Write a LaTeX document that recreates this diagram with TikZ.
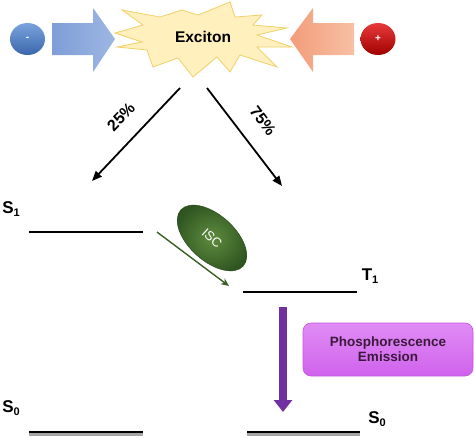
\documentclass[tikz,border=0pt]{standalone}
\usepackage{fontspec}
\setmainfont{Liberation Sans}
\usetikzlibrary{arrows.meta,shapes.geometric}
\definecolor{chblueT}{HTML}{7AA3DD}
\definecolor{chblueB}{HTML}{3A67AC}
\definecolor{chredT}{HTML}{E83A3A}
\definecolor{chredB}{HTML}{A00000}
\definecolor{arrblueL}{HTML}{7F9ED8}
\definecolor{arrblueR}{HTML}{9DB6E3}
\definecolor{arrorL}{HTML}{F39C7A}
\definecolor{arrorR}{HTML}{F7C0A4}
\definecolor{burstfill}{HTML}{FFF0BE}
\definecolor{burstline}{HTML}{F0D068}
\definecolor{iscin}{HTML}{5E8B3E}
\definecolor{iscout}{HTML}{2E5420}
\definecolor{iscarrow}{HTML}{3C5F28}
\definecolor{emipurple}{HTML}{7030A0}
\definecolor{boxtop}{HTML}{E08CF5}
\definecolor{boxbot}{HTML}{D062EC}
\definecolor{boxline}{HTML}{C455E0}
\definecolor{boxtext}{HTML}{3A1A3A}
\newcommand{\lvlab}[2]{\fontsize{17}{17}\selectfont #1\raisebox{-0.35ex}{\fontsize{11}{11}\selectfont #2}}
\begin{document}
\begin{tikzpicture}[x=1pt,y=-1pt,font=\bfseries,
  charge/.style={ellipse,minimum width=35pt,minimum height=32pt,inner sep=0pt,text=white,font=\bfseries\fontsize{10}{10}\selectfont},
  lvl/.style={line width=2.5pt},
  lvlshadow/.style={line width=2.5pt,gray!70},
  pct/.style={-{Triangle[length=10pt,width=8pt]},line width=1.8pt},
  pctlab/.style={font=\bfseries\fontsize{16}{16}\selectfont},
  levlab/.style={inner sep=0pt}]
\useasboundingbox (0,0) rectangle (474,437);

% charges
\node[charge,top color=chblueT,bottom color=chblueB] (minus) at (27.5,39) {-};
\node[charge,top color=chredT,bottom color=chredB] (plus) at (378,39) {+};

% big arrows
\path[left color=arrblueL,right color=arrblueR]
  (52,23) -- (93,23) -- (93,8) -- (115,39) -- (93,72) -- (93,55) -- (52,55) -- cycle;
\path[left color=arrorL,right color=arrorR]
  (354,23) -- (313,23) -- (313,8) -- (290,39) -- (313,72) -- (313,55) -- (354,55) -- cycle;

% starburst
\draw[fill=burstfill,draw=burstline,line width=0.8pt,line join=miter]
  (115,33) -- (143,25) -- (122,10) -- (160,17) -- (182,10) -- (198,15) -- (230,2)
  -- (235,17) -- (262,15) -- (253,25) -- (287,28) -- (257,35) -- (292,47)
  -- (257,47) -- (277,67) -- (240,55) -- (230,72) -- (217,57) -- (193,77)
  -- (178,58) -- (153,67) -- (147,50) -- (117,47) -- (142,42) -- cycle;
\node[font=\bfseries\fontsize{15.5}{15.5}\selectfont] (exciton) at (203,37) {Exciton};

% branching arrows
\coordinate (a25s) at (180,88);
\coordinate (a25e) at (92,181);
\coordinate (a75s) at (207,88);
\coordinate (a75e) at (282,186);
\draw[pct] (a25s) -- (a25e);
\draw[pct] (a75s) -- (a75e);
\node[pctlab,rotate=46] (p25) at (121,117) {25\%};
\node[pctlab,rotate=-53] (p75) at (263,121) {75\%};

% levels
\coordinate (s1l) at (29,232); \coordinate (s1r) at (143,232);
\coordinate (t1l) at (243,292); \coordinate (t1r) at (357,292);
\coordinate (s0al) at (29,432); \coordinate (s0ar) at (143,432);
\coordinate (s0bl) at (247,432); \coordinate (s0br) at (360,432);
\draw[lvlshadow] ([yshift=-2.5pt]s0al) -- ([yshift=-2.5pt]s0ar);
\draw[lvlshadow] ([yshift=-2.5pt]s0bl) -- ([yshift=-2.5pt]s0br);
\draw[lvl] (s1l) -- (s1r);
\draw[lvl] (t1l) -- (t1r);
\draw[lvl] (s0al) -- (s0ar);
\draw[lvl] (s0bl) -- (s0br);
\node[levlab] (S1) at (11,209) {\lvlab{S}{1}};
\node[levlab] (T1) at (370,276) {\lvlab{T}{1}};
\node[levlab] (S0a) at (11,408) {\lvlab{S}{0}};
\node[levlab] (S0b) at (377,419) {\lvlab{S}{0}};

% ISC
\node[ellipse,minimum width=84pt,minimum height=46pt,inner sep=0pt,rotate=-42,
  inner color=iscin,outer color=iscout,draw=iscout!80!black,line width=0.4pt,
  text=white,font=\fontsize{13}{13}\selectfont] (isc) at (212,238) {ISC};
\coordinate (iscs) at (157,232);
\coordinate (isce) at (229,286);
\draw[iscarrow,line width=1.4pt,-{Stealth[length=8pt,width=7pt]}] (iscs) -- (isce);

% phosphorescence
\coordinate (emis) at (283,307);
\coordinate (emie) at (283,412);
\draw[emipurple,line width=8pt,-{Triangle[length=12pt,width=18pt]}] (emis) -- (emie);
\node[rectangle,rounded corners=8pt,minimum width=170pt,minimum height=53pt,
  top color=boxtop,bottom color=boxbot,draw=boxline,line width=0.6pt,
  text=boxtext,align=center,font=\bfseries\fontsize{13.5}{15}\selectfont]
  (phos) at (388,349.5) {Phosphorescence\\Emission};
\end{tikzpicture}
\end{document}
